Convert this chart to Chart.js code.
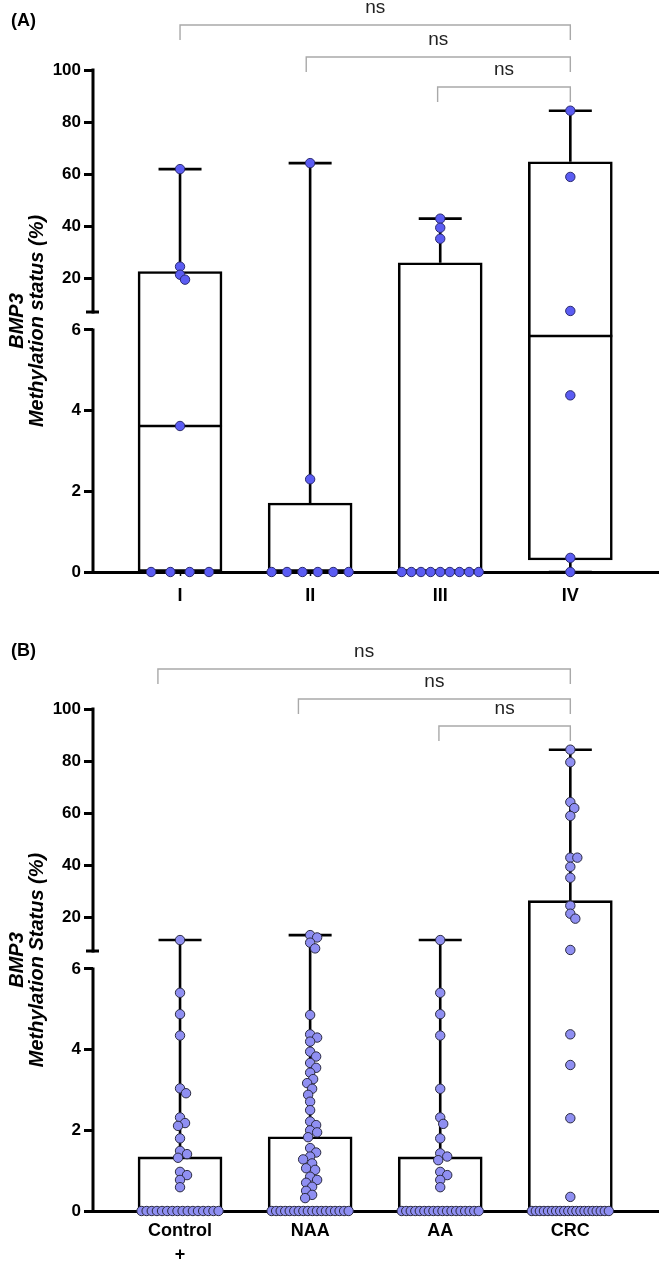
<!DOCTYPE html>
<html>
<head>
<meta charset="utf-8">
<script src="https://cdn.jsdelivr.net/npm/chart.js@4.4.1/dist/chart.umd.min.js"></script>
<style>
  html, body { margin: 0; padding: 0; background: #fff; overflow: hidden; }
  .pane { width: 900px; }
  canvas { display: block; }
</style>
</head>
<body>
<div class="pane"><canvas id="chartA" width="661" height="639"></canvas></div>
<div class="pane"><canvas id="chartB" width="661" height="622"></canvas></div>
<script>
// ---------------- DATA ----------------
// Panel A: CRC stage
const catsA = ['I', 'II', 'III', 'IV'];
const stageI   = [62, 24.6, 21.5, 19.6, 3.62, 0, 0, 0, 0];
const stageII  = [64.3, 2.3, 0, 0, 0, 0, 0, 0];
const stageIII = [43, 39.5, 35.3, 0, 0, 0, 0, 0, 0, 0, 0, 0];
const stageIV  = [84.4, 59, 7.6, 4.38, 0.35, 0];
const minA = [0, 0, 0, 0];
const q1A  = [0, 0, 0, 0.3];
const medA = [3.62, 0, 0, 5.85];
const q3A  = [22.7, 1.71, 26.1, 64.8];
const maxA = [62, 64.3, 43, 84.4];

// Panel B: diagnostic group
const catsB = [['Control', '+'], 'NAA', 'AA', 'CRC'];
const controlPos = [11.4, 5.41, 4.88, 4.35, 3.04, 2.92, 2.32, 2.18, 2.11, 1.80, 1.49, 1.41, 1.32, 0.97, 0.89, 0.77, 0.59,
  0, 0, 0, 0, 0, 0, 0, 0, 0, 0, 0, 0, 0, 0, 0, 0];
const naa = [13.3, 12.4, 10.4, 8.2, 4.86, 4.38, 4.30, 4.20, 3.95, 3.83, 3.67, 3.55, 3.43, 3.27, 3.17, 3.03, 2.88, 2.71,
  2.50, 2.22, 2.13, 2.00, 1.95, 1.83, 1.56, 1.45, 1.35, 1.28, 1.18, 1.06, 1.02, 0.85, 0.77, 0.70, 0.60, 0.50, 0.40, 0.32,
  0, 0, 0, 0, 0, 0, 0, 0, 0, 0, 0, 0, 0, 0, 0, 0, 0, 0];
const aa = [11.4, 5.41, 4.88, 4.35, 3.03, 2.32, 2.16, 1.80, 1.43, 1.35, 1.26, 0.97, 0.89, 0.77, 0.59,
  0, 0, 0, 0, 0, 0, 0, 0, 0, 0, 0, 0, 0, 0, 0, 0, 0, 0];
const crc = [84.4, 79.6, 64.3, 62, 59, 43, 43, 39.5, 35.3, 24.6, 21.5, 19.6, 7.6, 4.38, 3.62, 2.3, 0.35,
  0, 0, 0, 0, 0, 0, 0, 0, 0, 0, 0, 0, 0, 0, 0, 0, 0, 0, 0, 0];
const minB = [0, 0, 0, 0];
const q1B  = [0, 0, 0, 0];
const medB = [0, 0, 0, 0];
const q3B  = [1.34, 1.84, 1.34, 26.5];
const maxB = [11.4, 13.3, 11.4, 84.4];

// Broken y axis tick labels
const ticksLow  = [0, 2, 4, 6];
const ticksHigh = [20, 40, 60, 80, 100];
const bracketLabel = 'ns';
const bracketsA = [[0, 3], [0.97, 3], [1.98, 3]];
const bracketsB = [[-0.17, 3], [0.91, 3], [1.99, 3]];

// ---------------- LAYOUT ----------------
const LOW_MAX = 6, UP_MIN = 7.2, UP_MAX = 100;
const GAP = 0.446, UP_SPAN = 6;
function T(v) {
  if (v <= LOW_MAX) return v;
  if (v >= UP_MIN) return LOW_MAX + GAP + (v - UP_MIN) / (UP_MAX - UP_MIN) * UP_SPAN;
  return LOW_MAX + (v - LOW_MAX) / (UP_MIN - LOW_MAX) * GAP;
}
const Y_MAX = T(UP_MAX);
const X_MIN = -0.669, X_MAX = 3.677;
const AREA_L = 93, AREA_R = 658, AREA_T = 70, AREA_B = 572;
const PX_X = (AREA_R - AREA_L) / (X_MAX - X_MIN);
const PX_Y = (AREA_B - AREA_T) / Y_MAX;
const BOX_W = 84, CAP_HALF = 21.5, PT_R = 4.7, MIN_D = 7;

Chart.defaults.font.family = "'Liberation Sans', Arial, sans-serif";
Chart.defaults.color = '#000';

function swarm(vals) {
  const out = vals.map(() => 0);
  const counts = {};
  vals.forEach(v => { counts[v] = (counts[v] || 0) + 1; });
  const seen = {};
  const placed = [];
  vals.forEach((v, i) => {
    const n = counts[v];
    if (n >= 3) {
      const spacing = Math.min(19.3, 77 / (n - 1));
      seen[v] = seen[v] === undefined ? 0 : seen[v] + 1;
      const px = (seen[v] - (n - 1) / 2) * spacing;
      out[i] = px / PX_X;
      placed.push([px, T(v) * PX_Y]);
    }
  });
  vals.forEach((v, i) => {
    if (counts[v] >= 3) return;
    const y = T(v) * PX_Y;
    let best = 0, found = false;
    for (let s = 0; s <= 30 && !found; s++) {
      const cands = s === 0 ? [0] : [s, -s];
      for (const px of cands) {
        if (placed.every(p => Math.hypot(p[0] - px, p[1] - y) >= MIN_D)) { best = px; found = true; break; }
      }
    }
    out[i] = best / PX_X;
    placed.push([best, y]);
  });
  return out;
}

function makePanel(id, H, cats, groups, mins, q1s, meds, q3s, maxs, opt) {
  const pts = [];
  groups.forEach((g, i) => {
    const offs = swarm(g);
    g.forEach((v, j) => pts.push({ x: i + offs[j], y: T(v) }));
  });
  const boxes = cats.map((c, i) => ({ x: i, y: [T(q1s[i]), T(q3s[i])] }));
  const whiskers = [];
  cats.forEach((c, i) => {
    whiskers.push({ x: i, y: T(q3s[i]) }, { x: i, y: T(maxs[i]) }, { x: i, y: null });
    if (q1s[i] > mins[i]) whiskers.push({ x: i, y: T(q1s[i]) }, { x: i, y: T(mins[i]) }, { x: i, y: null });
  });
  const caps = [];
  cats.forEach((c, i) => { caps.push({ x: i, y: T(maxs[i]) }, { x: i, y: T(mins[i]) }); });
  const medians = cats.map((c, i) => ({ x: i, y: T(meds[i]) }));

  const decor = {
    id: 'decor',
    afterDraw(chart) {
      const { ctx, scales: { x, y } } = chart;
      ctx.save();
      const ax = chart.chartArea.left;
      ctx.strokeStyle = '#000';
      ctx.lineWidth = 3;
      ctx.beginPath();
      ctx.moveTo(ax, y.getPixelForValue(T(0)) + 1.5);
      ctx.lineTo(ax, y.getPixelForValue(T(LOW_MAX)) - 1.5);
      ctx.moveTo(ax, y.getPixelForValue(T(UP_MIN)) + 1.5);
      ctx.lineTo(ax, y.getPixelForValue(T(UP_MAX)) - 1.5);
      ctx.stroke();
      const yc = y.getPixelForValue(T(UP_MIN));
      ctx.beginPath();
      ctx.moveTo(ax - 7, yc); ctx.lineTo(ax + 6, yc);
      ctx.stroke();
      // significance brackets
      opt.brackets.forEach((b, k) => {
        const x1 = x.getPixelForValue(b[0]);
        const x2 = x.getPixelForValue(b[1]);
        const ly = opt.levels[k];
        ctx.strokeStyle = '#a9a9a9';
        ctx.lineWidth = 1.4;
        ctx.beginPath();
        ctx.moveTo(x1, ly + 15); ctx.lineTo(x1, ly); ctx.lineTo(x2, ly); ctx.lineTo(x2, ly + 15);
        ctx.stroke();
        ctx.fillStyle = '#222';
        ctx.font = "19px 'Liberation Sans', Arial, sans-serif";
        ctx.textAlign = 'center';
        ctx.textBaseline = 'alphabetic';
        ctx.fillText(bracketLabel, (x1 + x2) / 2, ly - 12);
      });
      ctx.fillStyle = '#000';
      ctx.font = "bold 18px 'Liberation Sans', Arial, sans-serif";
      ctx.textAlign = 'left';
      ctx.textBaseline = 'middle';
      ctx.fillText(opt.label, 11, opt.labelY);
      ctx.restore();
    }
  };

  const tickVals = ticksLow.concat(ticksHigh);
  const zeroPad = s => { s.paddingLeft = 0; s.paddingRight = 0; s.paddingTop = 0; s.paddingBottom = 0; };

  const config = {
    type: 'scatter',
    data: {
      datasets: [
        { type: 'scatter', data: pts, order: 0, pointRadius: PT_R, pointBorderWidth: 1,
          pointBackgroundColor: opt.fill, pointBorderColor: opt.stroke, clip: false },
        { type: 'scatter', data: caps, order: 1, pointStyle: 'line', pointRadius: CAP_HALF,
          pointBorderWidth: 2.6, pointBorderColor: '#000', clip: false },
        { type: 'scatter', data: medians, order: 1, pointStyle: 'line', pointRadius: BOX_W / 2,
          pointBorderWidth: 2.6, pointBorderColor: '#000', clip: false },
        { type: 'scatter', data: whiskers, order: 2, showLine: true, spanGaps: false, pointRadius: 0,
          borderColor: '#000', borderWidth: 2.6, clip: false },
        { type: 'bar', data: boxes, order: 3, barThickness: BOX_W, backgroundColor: '#fff',
          borderColor: '#000', borderWidth: 2.6, borderSkipped: false, clip: false }
      ]
    },
    options: {
      responsive: false,
      animation: false,
      events: [],
      devicePixelRatio: 1,
      layout: { padding: { top: AREA_T, right: 661 - AREA_R, left: 0, bottom: 0 } },
      plugins: { legend: { display: false }, tooltip: { enabled: false } },
      scales: {
        x: {
          type: 'linear', position: 'bottom', min: X_MIN, max: X_MAX, offset: false,
          afterFit: s => { s.height = H - AREA_B; zeroPad(s); },
          afterBuildTicks: s => { s.ticks = cats.map((c, i) => ({ value: i })); },
          ticks: {
            autoSkip: false, maxRotation: 0, padding: opt.xPad, color: '#000',
            font: { size: 18, weight: 'bold', lineHeight: 1.28 },
            callback: (v, i) => cats[i]
          },
          grid: { offset: false, drawOnChartArea: false, drawTicks: true, tickLength: 4, tickWidth: 1.5, tickColor: '#000' },
          border: { display: true, color: '#000', width: 3 }
        },
        y: {
          type: 'linear', min: 0, max: Y_MAX,
          afterFit: s => { s.width = AREA_L; zeroPad(s); },
          afterBuildTicks: s => { s.ticks = tickVals.map(v => ({ value: T(v) })); },
          ticks: {
            autoSkip: false, padding: 3, color: '#000',
            font: { size: 17, weight: 'bold' },
            callback: (v, i) => String(tickVals[i])
          },
          grid: { offset: false, drawOnChartArea: false, drawTicks: true, tickLength: 9, tickWidth: 3, tickColor: '#000' },
          border: { display: false },
          title: {
            display: true, text: opt.yTitle, color: '#000',
            font: { size: 20, weight: 'bold', style: 'italic', lineHeight: 1.0 },
            padding: { top: 7, bottom: 0 }
          }
        }
      }
    },
    plugins: [decor]
  };

  const canvas = document.getElementById(id);
  let chart = new Chart(canvas, config);
  // Chart.js reserves extra room on the right; widen the canvas so the plot area ends where the reference's does
  for (let k = 0; k < 3; k++) {
    const d = AREA_R - chart.scales.x.right;
    if (Math.abs(d) < 0.5) break;
    const newW = canvas.width + Math.round(d);
    chart.destroy();
    canvas.width = newW;
    canvas.height = H;
    chart = new Chart(canvas, config);
  }
  return chart;
}

makePanel('chartA', 639, catsA, [stageI, stageII, stageIII, stageIV], minA, q1A, medA, q3A, maxA, {
  fill: '#5b5cf3', stroke: '#2b2b70', brackets: bracketsA, levels: [25, 57, 87],
  label: '(A)', labelY: 21, xPad: 9, yTitle: ['BMP3', 'Methylation status (%)']
});
makePanel('chartB', 622, catsB, [controlPos, naa, aa, crc], minB, q1B, medB, q3B, maxB, {
  fill: '#8f8ff2', stroke: '#2a2a40', brackets: bracketsB, levels: [30, 60, 87],
  label: '(B)', labelY: 12, xPad: 5, yTitle: ['BMP3', 'Methylation Status (%)']
});
</script>
</body>
</html>
